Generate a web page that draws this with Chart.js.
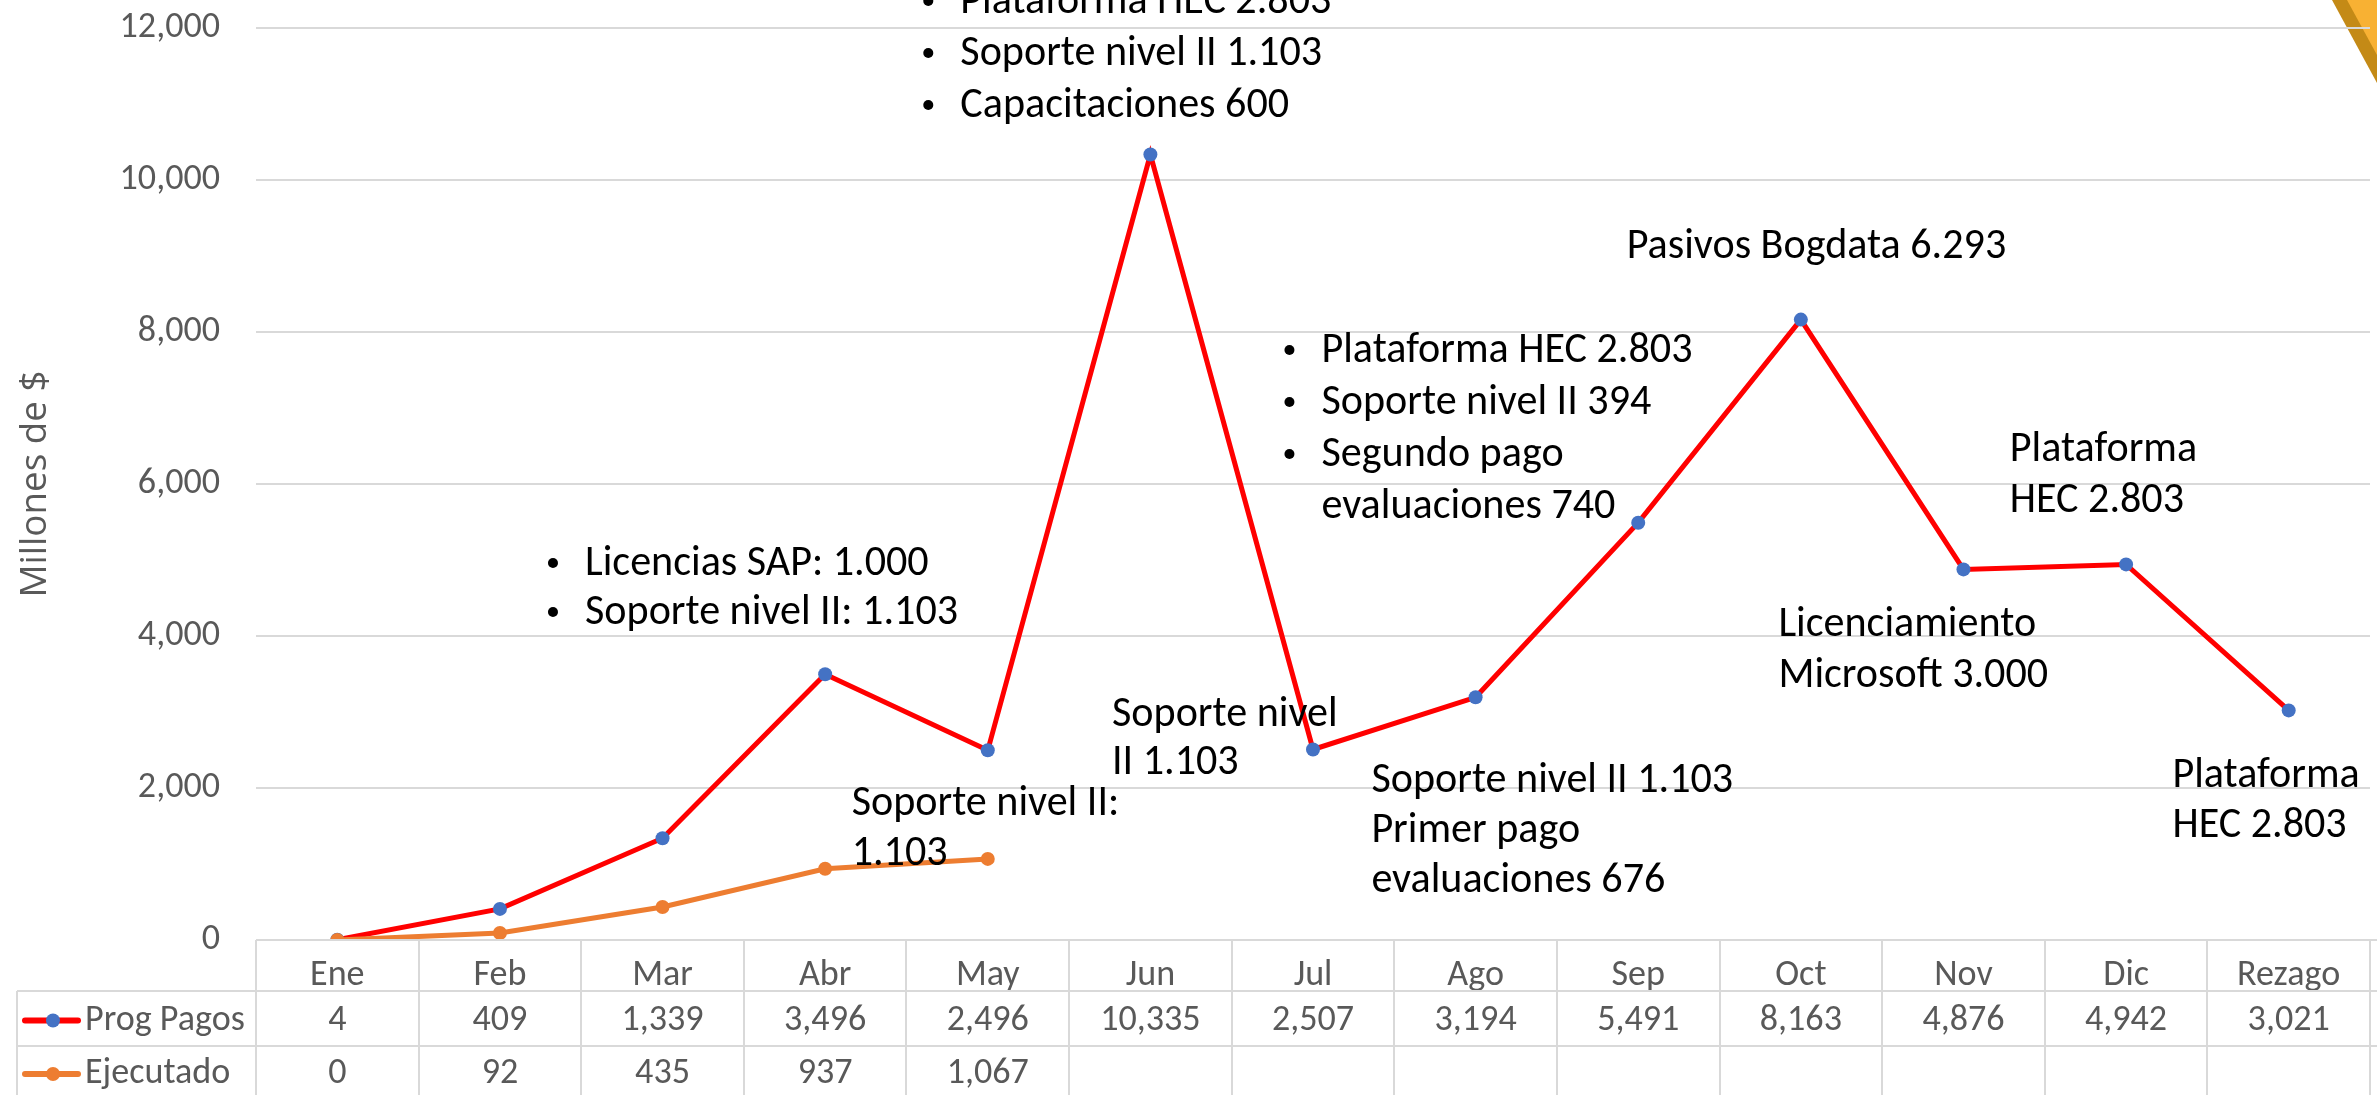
<!DOCTYPE html>
<html><head><meta charset="utf-8">
<script src="https://cdn.jsdelivr.net/npm/chart.js@4.4.1/dist/chart.umd.min.js"></script>
<style>html,body{margin:0;padding:0;background:#fff;overflow:hidden}#wrap{width:2377px;height:1095px;position:relative}</style>
</head><body><div id="wrap"><canvas id="c"></canvas></div>
<script>
// ---------- data ----------
const categories = ['Ene','Feb','Mar','Abr','May','Jun','Jul','Ago','Sep','Oct','Nov','Dic','Rezago'];
const progPagos = [4,409,1339,3496,2496,10335,2507,3194,5491,8163,4876,4942,3021];
const ejecutado = [0,92,435,937,1067,null,null,null,null,null,null,null,null];
const seriesNames = ['Prog Pagos','Ejecutado'];
const yTickValues = [0,2000,4000,6000,8000,10000,12000];
const yTitle = 'Millones de $';

// annotation texts (anchored by category index / value)
const noteJun = ['Plataforma HEC 2.803','Soporte nivel II 1.103','Capacitaciones 600'];
const noteAbr = ['Licencias SAP: 1.000','Soporte nivel II: 1.103'];
const noteMayExec = ['Soporte nivel II:','1.103'];
const noteMay = ['Soporte nivel','II 1.103'];
const noteAgoTop = ['Plataforma HEC 2.803','Soporte nivel II 394','Segundo pago','evaluaciones 740'];
const noteOct = ['Pasivos Bogdata 6.293'];
const noteAgo = ['Soporte nivel II 1.103','Primer pago','evaluaciones 676'];
const noteDic = ['Plataforma','HEC 2.803'];
const noteNov = ['Licenciamiento','Microsoft 3.000'];
const noteRez = ['Plataforma','HEC 2.803'];

// ---------- font selection ----------
const mctx = document.createElement('canvas').getContext('2d');
function available(f){
  const s='Soporte nivel II 1.103 WMwi';
  for (const base of ['monospace','serif']) {
    mctx.font='100px '+base; const w0=mctx.measureText(s).width;
    mctx.font="100px '"+f+"', "+base; const w1=mctx.measureText(s).width;
    if (Math.abs(w0-w1)>0.5) return true;
  }
  return false;
}
let FONT='sans-serif';
for (const f of ['Carlito','Calibri','Lato','Liberation Sans Narrow','Open Sans']) { if (available(f)) { FONT="'"+f+"'"; break; } }
mctx.font='100px '+FONT;
const RATIO = 861.5 / mctx.measureText('Soporte nivel II 1.103').width;
const sz = n => Math.round(n*RATIO*10)/10;
let TFONT = "'Open Sans'";
if (!available('Open Sans')) TFONT = "'DejaVu Sans'";
mctx.font = '100px ' + TFONT;
const TSIZE = Math.round(100 * 227 / mctx.measureText(yTitle).width * 10) / 10;

const GRID = '#d9d9d9', TXT = '#595959';

const notes = [
  {lines: noteJun, xi: 3.831, v: 12197, lh: 52, bullets: [1,1,1]},
  {lines: noteAbr, xi: 1.523, v: 4803, lh: 49, bullets: [1,1]},
  {lines: noteMayExec, xi: 3.163, v: 1645, lh: 50},
  {lines: noteMay, xi: 4.764, v: 2816, lh: 48},
  {lines: noteAgoTop, xi: 6.052, v: 7605, lh: 52, bullets: [1,1,1,0]},
  {lines: noteOct, xi: 7.929, v: 8974, lh: 51},
  {lines: noteAgo, xi: 6.359, v: 1947, lh: 50},
  {lines: noteDic, xi: 10.285, v: 6303, lh: 51},
  {lines: noteNov, xi: 8.862, v: 4000, lh: 51},
  {lines: noteRez, xi: 11.285, v: 2013, lh: 50}
];

const decoPlugin = {
  id: 'deco',
  beforeDraw(chart){
    const c = chart.ctx, W = chart.width;
    c.save();
    c.fillStyle = '#C48A16';
    c.beginPath(); c.moveTo(W-45,0); c.lineTo(W,0); c.lineTo(W,83); c.closePath(); c.fill();
    c.fillStyle = '#F8B133';
    c.beginPath(); c.moveTo(W-30,0); c.lineTo(W,0); c.lineTo(W,55); c.closePath(); c.fill();
    c.restore();
  }
};

const tablePlugin = {
  id: 'dataTable',
  afterDraw(chart){
    const c = chart.ctx, xs = chart.scales.x, area = chart.chartArea, W = chart.width, H = chart.height;
    const step = xs.getPixelForValue(1) - xs.getPixelForValue(0);
    const top = area.bottom, r1 = top + 51, r2 = top + 106;
    const leftX = 17;
    c.save();
    c.strokeStyle = GRID; c.lineWidth = 2;
    c.beginPath();
    c.moveTo(area.left, top); c.lineTo(W, top);
    c.moveTo(leftX, r1); c.lineTo(W, r1);
    c.moveTo(leftX, r2); c.lineTo(W, r2);
    c.moveTo(leftX, r1); c.lineTo(leftX, H);
    for (let i = 0; i <= categories.length; i++) {
      const x = Math.round(xs.getPixelForValue(i) - step/2);
      c.moveTo(x, top); c.lineTo(x, H);
    }
    c.stroke();
    const rows = [progPagos, ejecutado];
    const ys = [(r1+r2)/2 + 2, (r2+H+5)/2 + 1];
    const lineCols = ['#FF0000','#ED7D31'], dotCols = ['#4472C4','#ED7D31'];
    c.font = sz(36) + 'px ' + FONT;
    c.textBaseline = 'middle';
    rows.forEach((row, k) => {
      const y = ys[k];
      c.strokeStyle = lineCols[k]; c.lineWidth = 6; c.lineCap = 'round';
      c.beginPath(); c.moveTo(25, y); c.lineTo(78, y); c.stroke();
      c.fillStyle = dotCols[k];
      c.beginPath(); c.arc(53, y, 7, 0, Math.PI*2); c.fill();
      c.fillStyle = TXT; c.textAlign = 'left';
      c.fillText(seriesNames[k], 85, y);
      c.textAlign = 'center';
      row.forEach((v, i) => {
        if (v === null) return;
        c.fillText(v.toLocaleString('en-US'), xs.getPixelForValue(i), y);
      });
    });
    c.restore();
  }
};

const notesPlugin = {
  id: 'notes',
  afterDraw(chart){
    const c = chart.ctx, xs = chart.scales.x, ys = chart.scales.y;
    c.save();
    c.fillStyle = '#000';
    c.font = sz(42) + 'px ' + FONT;
    c.textAlign = 'left'; c.textBaseline = 'alphabetic';
    notes.forEach(n => {
      const x0 = xs.getPixelForValue(n.xi), y0 = ys.getPixelForValue(n.v);
      n.lines.forEach((t, j) => {
        const y = y0 + j*n.lh;
        c.fillText(t, x0, y);
        if (n.bullets && n.bullets[j]) {
          c.beginPath(); c.arc(x0 - 32, y - 12, 5, 0, Math.PI*2); c.fill();
        }
      });
    });
    c.restore();
  }
};

new Chart(document.getElementById('c'), {
  type: 'line',
  data: {
    labels: categories,
    datasets: [
      {label: seriesNames[1], data: ejecutado, order: 0, borderColor: '#ED7D31', backgroundColor: '#ED7D31',
       borderWidth: 5, pointRadius: 7, pointBorderWidth: 0, pointBackgroundColor: '#ED7D31', tension: 0, spanGaps: false},
      {label: seriesNames[0], data: progPagos, order: 1, borderColor: '#FF0000', backgroundColor: '#4472C4',
       borderWidth: 5, pointRadius: 7, pointBorderWidth: 0, pointBackgroundColor: '#4472C4', tension: 0}
    ]
  },
  options: {
    responsive: true, maintainAspectRatio: false, animation: false,
    layout: {padding: {top: 28, right: 2, left: 0, bottom: 0}},
    plugins: {legend: {display: false}, tooltip: {enabled: false}},
    scales: {
      x: {
        offset: true,
        grid: {display: false}, border: {display: false},
        ticks: {color: TXT, font: {family: FONT, size: sz(36)}, padding: 6, maxRotation: 0, autoSkip: false},
        afterFit(s){ s.height = 155; s.paddingLeft = 0; s.paddingRight = 0; }
      },
      y: {
        min: 0, max: 12000,
        afterBuildTicks(s){ s.ticks = yTickValues.map(v => ({value: v})); },
        grid: {color: GRID, lineWidth: 2, drawTicks: false}, border: {display: false},
        ticks: {color: TXT, font: {family: FONT, size: sz(36)}, padding: 36, callback: v => v.toLocaleString('en-US')},
        title: {display: true, text: yTitle, color: TXT, font: {family: TFONT, size: TSIZE, lineHeight: 1.2}, padding: {top: 36 - TSIZE*0.6, bottom: 0}},
        afterFit(s){ s.width = 256; s.paddingTop = 0; s.paddingBottom = 0; }
      }
    }
  },
  plugins: [decoPlugin, tablePlugin, notesPlugin]
});
</script></body></html>
